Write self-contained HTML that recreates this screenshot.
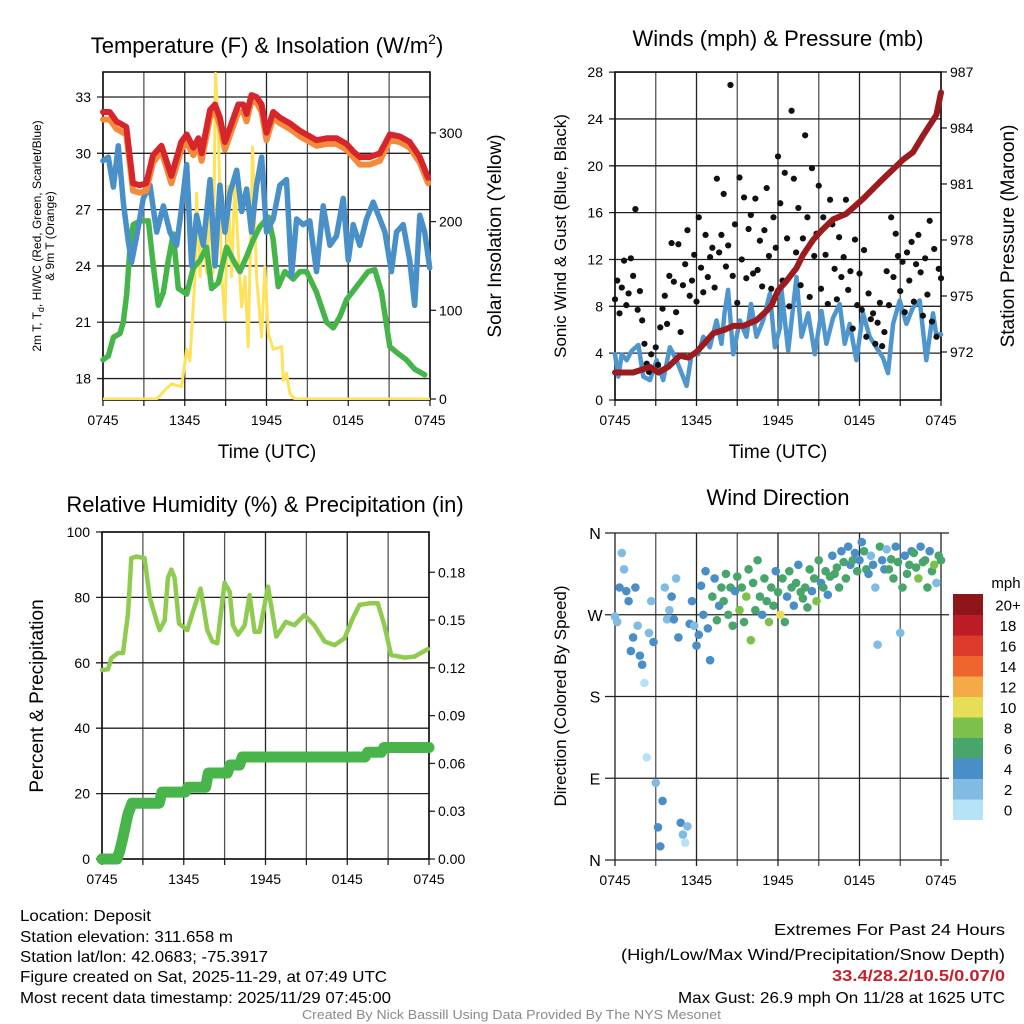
<!DOCTYPE html>
<html><head><meta charset="utf-8"><style>
body{margin:0;background:#fff}
svg{display:block;font-family:"Liberation Sans",Arial,sans-serif}
</style></head><body>
<svg id="s" width="1024" height="1024" viewBox="0 0 1024 1024" xmlns="http://www.w3.org/2000/svg">
<rect width="1024" height="1024" fill="#fff"/>
<g id="g"></g>
<!-- titles -->
<text x="267" y="53" font-size="22" text-anchor="middle">Temperature (F) &amp; Insolation (W/m<tspan font-size="14" dy="-9">2</tspan><tspan dy="9">)</tspan></text>
<text x="778" y="46" font-size="22" text-anchor="middle">Winds (mph) &amp; Pressure (mb)</text>
<text x="265" y="512" font-size="22" text-anchor="middle">Relative Humidity (%) &amp; Precipitation (in)</text>
<text x="778" y="505" font-size="22" text-anchor="middle">Wind Direction</text>
<!-- axis titles -->
<text transform="translate(41,236) rotate(-90)" font-size="12" text-anchor="middle">2m T, T<tspan font-size="9" dy="3">d</tspan><tspan dy="-3">, HI/WC (Red, Green, Scarlet/Blue)</tspan></text>
<text transform="translate(54,236) rotate(-90)" font-size="12" text-anchor="middle">&amp; 9m T (Orange)</text>
<text transform="translate(501,236) rotate(-90)" font-size="19" text-anchor="middle">Solar Insolation (Yellow)</text>
<text x="267" y="458" font-size="19" text-anchor="middle">Time (UTC)</text>
<text transform="translate(566,236) rotate(-90)" font-size="17" text-anchor="middle">Sonic Wind &amp; Gust (Blue, Black)</text>
<text transform="translate(1014,236) rotate(-90)" font-size="19" text-anchor="middle">Station Pressure (Maroon)</text>
<text x="778" y="458" font-size="19" text-anchor="middle">Time (UTC)</text>
<text transform="translate(43,696) rotate(-90)" font-size="19" text-anchor="middle">Percent &amp; Precipitation</text>
<text transform="translate(566,696) rotate(-90)" font-size="17" text-anchor="middle">Direction (Colored By Speed)</text>
<!-- footer -->
<g font-size="16">
<text x="20" y="921" textLength="131" lengthAdjust="spacingAndGlyphs">Location: Deposit</text>
<text x="20" y="942" textLength="213" lengthAdjust="spacingAndGlyphs">Station elevation: 311.658 m</text>
<text x="20" y="962" textLength="248" lengthAdjust="spacingAndGlyphs">Station lat/lon: 42.0683; -75.3917</text>
<text x="20" y="982" textLength="367" lengthAdjust="spacingAndGlyphs">Figure created on Sat, 2025-11-29, at 07:49 UTC</text>
<text x="20" y="1003" textLength="371" lengthAdjust="spacingAndGlyphs">Most recent data timestamp: 2025/11/29 07:45:00</text>
</g>
<g font-size="16">
<text x="774" y="935" textLength="231" lengthAdjust="spacingAndGlyphs">Extremes For Past 24 Hours</text>
<text x="621" y="960" textLength="384" lengthAdjust="spacingAndGlyphs">(High/Low/Max Wind/Precipitation/Snow Depth)</text>
<text x="832" y="981" textLength="173" lengthAdjust="spacingAndGlyphs" fill="#c8202a" font-weight="bold">33.4/28.2/10.5/0.07/0</text>
<text x="678" y="1003" textLength="327" lengthAdjust="spacingAndGlyphs">Max Gust: 26.9 mph On 11/28 at 1625 UTC</text>
</g>
<text x="302" y="1019" font-size="13" fill="#8a8a8a" textLength="419" lengthAdjust="spacingAndGlyphs">Created By Nick Bassill Using Data Provided By The NYS Mesonet</text>
</svg>
<script>
// ---------- data ----------
const xTickLabels=["0745","1345","1945","0145","0745"];
const tempTicks=[18,21,24,27,30,33];
const solarTicks=[0,100,200,300];
const windTicks=[0,4,8,12,16,20,24,28];
const presTicks=[972,975,978,981,984,987];
const rhTicks=[0,20,40,60,80,100];
const precipTicks=[0,0.03,0.06,0.09,0.12,0.15,0.18];
const dirTicks=[0,90,180,270,360];
const dirTickLabels=["N","E","S","W","N"];
const cbLabels=["0","2","4","6","8","10","12","14","16","18","20+"];
const cbColors=["#b5e2f7","#80bbe4","#4a8ec7","#48a56b","#7dc04a","#e6df55","#f5aa48","#ef6530","#de3a2c","#bb1c25","#8e1519"];

const redT=[0,0.49,0.98,1.71,2.2,2.69,3.18,3.67,4.29,5.02,5.75,6.14,6.63,7.0,7.24,7.85,8.22,8.58,8.95,9.44,9.93,10.29,10.54,10.9,11.27,11.64,12.0,12.49,12.98,13.72,14.45,15.18,15.67,16.41,17.14,17.87,18.36,18.85,19.58,20.32,21.05,21.78,22.51,23.25,23.86];
const redV=[32.2,32.2,31.7,31.4,28.4,28.3,28.4,29.9,30.4,28.8,30.6,31.0,30.3,30.8,30.0,32.3,32.6,31.9,30.6,31.6,32.6,32.6,32.1,33.1,33.0,32.6,31.1,32.2,31.9,31.6,31.2,30.9,30.7,30.8,30.8,30.5,30.1,29.8,29.8,30.0,31.0,30.9,30.6,29.8,28.7];
const orangeV=[31.8,31.8,31.3,31.0,28.0,27.9,28.0,29.5,30.1,28.4,30.2,30.6,29.9,30.4,29.6,31.9,32.3,31.5,30.2,31.2,32.2,32.2,31.7,32.8,32.7,32.2,30.7,31.9,31.6,31.3,30.9,30.6,30.4,30.5,30.5,30.2,29.8,29.4,29.4,29.6,30.7,30.6,30.3,29.5,28.4];
const blueT=[0,0.39,0.76,1.12,1.49,1.86,2.1,2.47,2.96,3.45,3.94,4.43,4.91,5.4,5.77,6.14,6.5,6.87,7.36,7.85,8.22,8.58,8.95,9.32,9.81,10.18,10.54,10.9,11.27,11.64,12.0,12.49,12.98,13.47,13.84,14.21,14.69,15.18,15.67,16.16,16.65,17.14,17.63,18.0,18.36,18.85,19.34,19.83,20.32,20.69,21.17,21.54,22.03,22.51,22.88,23.25,23.61,23.98];
const blueV=[29.6,29.8,28.2,30.4,27.4,25.3,24.2,25.6,27.6,28.3,25.8,27.2,25.8,25.1,27.1,29.4,24.0,26.7,25.1,28.6,24.0,28.3,25.8,27.9,29.1,26.9,28.1,25.8,28.3,29.8,25.8,26.5,28.3,28.6,23.5,26.5,26.2,26.4,23.7,27.2,25.1,25.6,27.6,24.3,26.2,25.1,26.5,27.4,26.5,25.8,23.7,25.8,26.2,24.3,21.9,26.7,25.8,23.9];
const greenT=[0,0.39,0.76,1.25,1.49,1.74,1.98,2.22,2.71,3.33,3.69,4.06,4.43,4.79,5.16,5.53,6.14,6.63,7.12,7.6,7.97,8.46,9.07,9.56,10.05,10.54,11.03,11.52,12.13,12.49,12.86,13.35,13.96,14.45,14.94,15.67,16.41,16.9,17.39,17.87,18.61,19.46,19.95,20.44,21.05,21.54,22.27,22.88,23.61];
const greenV=[19.0,19.2,20.2,20.4,21.0,22.5,25.0,26.2,26.4,26.4,24.0,21.9,22.6,24.3,25.7,22.8,22.5,23.9,24.3,25.0,22.8,23.1,25.0,24.3,23.7,24.5,25.4,26.1,26.6,25.4,22.9,23.7,23.3,23.7,23.7,22.6,21.0,20.7,21.3,22.2,22.9,23.7,23.8,22.6,19.7,19.4,19.0,18.5,18.2];
const solarT=[0,3.94,4.67,5.04,5.77,6.14,6.38,6.75,6.87,7.12,7.36,7.6,7.85,8.09,8.26,8.46,8.70,8.95,9.19,9.44,9.68,9.93,10.17,10.42,10.66,10.98,11.27,11.64,11.88,12.13,12.49,13.11,13.23,13.47,13.72,14.08,24];
const solarV=[0,0,12,17,14,56,43,138,232,138,194,142,213,142,367,307,142,89,240,138,247,165,104,138,59,284,138,70,149,74,56,59,21,29,6,0,0];

const windT=[0,0.25,0.49,0.86,1.23,1.72,2.08,2.57,3.06,3.55,4.04,4.53,4.9,5.27,5.64,6.13,6.5,6.98,7.47,7.84,8.06,8.33,8.7,9.19,9.68,10.01,10.42,10.91,11.4,11.77,12.15,12.26,12.75,13.36,13.73,14.22,14.71,15.2,15.56,16.05,16.54,16.91,17.28,17.77,18.26,18.75,19.24,19.73,20.1,20.47,20.96,21.45,21.94,22.43,22.92,23.41,23.65,24];
const windV=[3.9,2.0,3.9,3.4,4.2,4.7,2.0,1.7,3.4,1.7,4.5,3.4,2.3,1.2,3.9,3.9,5.4,4.5,6.8,4.8,7.4,9.4,3.9,6.8,5.4,8.2,5.4,6.8,9.1,4.5,6.2,9.4,4.2,10.5,5.4,7.4,3.9,7.6,4.8,7.0,8.2,4.8,6.5,3.4,7.4,5.4,4.5,3.6,2.3,6.5,8.5,6.5,7.9,8.5,3.4,7.4,5.6,5.6];
const presT=[0,1.35,2.57,3.19,3.92,4.78,5.39,6.0,6.5,7.23,8.09,8.7,9.44,10.42,11.15,11.52,12.01,12.62,13.36,13.84,14.58,15.2,16.05,17.03,18.26,19.49,21.2,21.94,22.68,23.66,24];
const presV=[970.9,970.9,971.2,970.9,971.2,971.8,971.7,972.0,972.4,973.0,973.2,973.4,973.4,973.7,974.2,974.5,975.3,975.8,976.5,977.2,978.0,978.5,979.1,979.4,980.2,981.1,982.3,982.7,983.6,984.7,985.9];
const gustV=[8.6,10.2,7.4,9.6,11.9,8.1,9.1,12.1,10.6,16.3,7.7,9.3,6.8,4.8,3.1,2.4,3.9,2.6,4.5,3.0,6.2,7.8,8.9,6.5,10.6,13.4,10.1,7.5,13.3,5.8,9.8,11.6,14.5,8.9,10.2,12.4,8.4,15.6,11.3,9.2,14.1,10.5,12.2,13.0,9.6,18.9,12.6,14.1,17.6,11.4,13.2,26.9,10.6,15.0,8.3,19.0,12.0,17.3,10.4,14.6,15.8,10.8,17.2,11.1,13.6,9.7,14.5,18.1,12.3,9.5,15.6,13.0,20.8,16.8,10.2,19.4,13.8,8.0,24.7,18.9,12.6,16.4,9.8,13.8,22.6,15.6,8.8,19.8,12.3,14.2,18.3,9.5,15.6,12.4,8.2,17.1,15.0,11.2,8.6,13.9,10.5,12.2,17.1,9.4,11.0,6.1,13.7,8.1,10.8,7.7,12.8,5.4,9.1,6.9,7.4,4.8,6.6,8.3,4.6,5.8,11.0,8.1,15.6,10.5,14.2,12.3,9.3,11.8,7.5,12.6,10.2,13.5,8.4,11.6,14.1,10.9,7.2,12.1,9.0,15.3,6.7,12.9,5.4,11.2,10.4];

const rhT=[0,0.44,0.68,1.17,1.54,1.91,2.15,2.52,3.13,3.5,3.99,4.23,4.6,4.84,5.09,5.33,5.65,6.26,6.75,7.24,7.73,8.1,8.46,9.0,9.37,9.61,9.98,10.47,10.83,11.2,11.57,12.18,12.79,13.5,14.13,14.85,15.58,16.34,17.07,17.8,18.41,18.9,19.63,20.24,20.73,21.22,22.2,22.93,23.91];
const rhV=[57.8,58,61.4,63,63,75,92,92.5,92,80,73,70,73,86,88.5,86,72,70,76.6,82.7,70,66.5,66,84.5,81.7,71.5,68.6,71.5,80.7,69.5,69.5,83.3,68,72.5,71.5,74.6,71.5,66.5,65.4,67.5,73.6,77.7,78.2,78.2,71.5,62.4,61.6,61.9,64.2];
const precipT=[0,1.1,1.3,1.5,1.7,1.9,2.2,4.2,4.4,6.1,6.3,7.6,7.8,9.2,9.4,10.1,10.3,19.3,19.5,20.5,20.7,24];
const precipV=[0,0,0.005,0.012,0.02,0.028,0.035,0.035,0.042,0.042,0.045,0.045,0.054,0.054,0.059,0.059,0.064,0.064,0.067,0.067,0.07,0.07];

const dirV=[268,262,300,338,320,296,285,230,245,300,258,225,215,195,113,250,285,240,85,36,15,65,300,265,275,290,265,310,245,41,28,19,37,260,285,258,236,248,302,270,318,255,220,290,310,264,280,300,285,315,270,300,258,296,312,275,300,262,290,320,242,305,275,330,290,270,310,285,262,300,280,318,295,270,310,262,290,318,300,280,305,325,295,288,300,278,320,296,310,285,330,305,300,318,292,312,335,315,322,300,340,328,310,345,325,330,338,318,330,350,340,320,315,335,325,300,237,345,330,320,342,320,331,310,345,328,250,300,335,315,325,340,338,322,310,345,328,330,300,340,318,325,305,335,330];
const dirSpd=[3,2,4,3,2,4,4,5,4,5,3,4,4,1,1,3,3,4,2,4,4,4,3,2,3,4,5,3,5,4,2,1,3,5,4,3,5,4,5,4,5,5,5,6,4,6,5,6,6,7,6,7,6,5,6,8,6,7,8,6,9,7,6,6,7,5,7,6,9,6,7,5,6,10,6,7,5,6,7,5,6,5,7,6,6,6,7,4,6,9,6,5,7,6,5,6,5,6,7,6,5,6,7,4,5,6,5,6,4,5,7,6,5,3,4,2,2,6,5,4,3,6,6,7,4,7,2,6,5,6,7,4,6,7,8,5,6,7,6,5,7,8,3,6,6];

// ---------- drawing ----------
const NS="http://www.w3.org/2000/svg";
const G=document.getElementById('g');
function mk(tag,attrs,parent){const e=document.createElementNS(NS,tag);for(const k in attrs)e.setAttribute(k,attrs[k]);(parent||G).appendChild(e);return e;}
function txt(x,y,s,size,anchor,parent){const t=mk('text',{x:x,y:y,'font-size':size,'text-anchor':anchor},parent);t.textContent=s;return t;}

function panel(name,x0,x1,y0,y1){
  const grp=mk('g',{});
  
  
  return {g:grp,x0,x1,y0,y1,xs:h=>x0+h*(x1-x0)/24};
}
function frame(p,leftTicks,ly,leftFmt,rightTicks,ry,rightFmt){
  for(let h=0;h<=24;h+=3){const x=p.xs(h);mk('line',{x1:x,x2:x,y1:p.y0,y2:p.y1,stroke:h%6?'#555':'#222','stroke-width':1.3},p.g);
    mk('line',{x1:x,x2:x,y1:p.y1,y2:p.y1+6,stroke:'#222','stroke-width':1.3},p.g);}
  xTickLabels.forEach((l,i)=>{const t=txt(p.xs(i*6),p.y1+25,l,14,'middle',p.g);});
  leftTicks.forEach(v=>{const y=ly(v);mk('line',{x1:p.x0-6,x2:p.x1,y1:y,y2:y,stroke:'#222','stroke-width':1.3},p.g);
    const t=txt(p.x0-12,y+5,leftFmt(v),14,'end',p.g);});
  if(rightTicks){rightTicks.forEach(v=>{const y=ry(v);mk('line',{x1:p.x1,x2:p.x1+6,y1:y,y2:y,stroke:'#222','stroke-width':1.3},p.g);
    const t=txt(p.x1+9,y+5,rightFmt(v),14,'start',p.g);});}
  mk('rect',{x:p.x0,y:p.y0,width:p.x1-p.x0,height:p.y1-p.y0,fill:'none',stroke:'#111','stroke-width':1.6},p.g);
}
function line(p,T,V,sc,color,w,name){
  const d=T.map((t,i)=>(i?'L':'M')+p.xs(t).toFixed(1)+','+sc(V[i]).toFixed(1)).join('');
  const e=mk('path',{d:d,fill:'none',stroke:color,'stroke-width':w,'stroke-linejoin':'round','stroke-linecap':'round'},p.g);
  
  
  return e;
}

// Panel 1
const p1=panel('temperature-chart',103,430,72,400);
const tY=v=>97+(33-v)*18.77, sY=v=>399-v*0.887;
frame(p1,tempTicks,tY,v=>String(v),solarTicks,sY,v=>String(v));
const clip1=mk('clipPath',{id:'c1'});mk('rect',{x:103,y:60,width:327,height:340},clip1);
line(p1,solarT,solarV,sY,'#fde25a',3,'solar-line').setAttribute('clip-path','url(#c1)');
line(p1,greenT,greenV,tY,'#46b549',5.5,'dewpoint-line');
line(p1,blueT,blueV,tY,'#4a90c8',5.5,'windchill-line');
line(p1,redT,orangeV,tY,'#f58a3a',6,'temp-9m-line');
line(p1,redT,redV,tY,'#d7262b',6,'temp-2m-line');

// Panel 2
const p2=panel('winds-chart',615,941,72,400);
const wY=v=>400-v*11.71, pY=v=>352-(v-972)*18.67;
frame(p2,windTicks,wY,v=>String(v),presTicks,pY,v=>String(v));
line(p2,windT,windV,wY,'#4f96cf',4.5,'sonic-wind-line');
gustV.forEach((v,i)=>{const c=mk('circle',{cx:p2.xs(i/6),cy:wY(v),r:3.1,fill:'#111'},p2.g);
  
  });
line(p2,presT,presV,pY,'#9b1b1e',6,'pressure-line');

// Panel 3
const p3=panel('humidity-chart',102,429,532,859);
const rY=v=>859-v*3.27, prY=v=>859-v*1593;
frame(p3,rhTicks,rY,v=>String(v),precipTicks,prY,v=>v.toFixed(2));
line(p3,rhT,rhV,rY,'#8fcb4f',4.5,'rh-line');
line(p3,precipT,precipV,prY,'#47b54a',11,'precip-line');

// Panel 4
const p4=panel('wind-direction-chart',615,941,533,860);
const dY=v=>860-v*327/360;
for(let h=0;h<=24;h+=3){const x=p4.xs(h);mk('line',{x1:x,x2:x,y1:p4.y0,y2:p4.y1+6,stroke:h%6?'#555':'#222','stroke-width':1.3},p4.g);}
xTickLabels.forEach((l,i)=>{const t=txt(p4.xs(i*6),p4.y1+25,l,14,'middle',p4.g);});
dirTicks.forEach((v,i)=>{const y=dY(v);mk('line',{x1:p4.x0-10,x2:p4.x1+8,y1:y,y2:y,stroke:'#222','stroke-width':1.3},p4.g);
  const t=txt(p4.x0-20,y+6,dirTickLabels[i],16,'middle',p4.g);});
dirV.forEach((v,i)=>{const ci=Math.min(10,Math.floor(dirSpd[i]/2));
  const c=mk('circle',{cx:p4.xs(i/6),cy:dY(v),r:4.3,fill:cbColors[ci]},p4.g);
  
  });
// colorbar
const cb=mk('g',{});


txt(1006,588,'mph',15,'middle',cb);
const cbTop=594,cbH=20.5;
cbLabels.forEach((l,i)=>{const y=cbTop+(10-i)*cbH;
  mk('rect',{x:953,y:y,width:30,height:cbH+0.5,fill:cbColors[i]},cb);
  txt(1008,y+cbH/2+6,l,15,'middle',cb);});
</script>
</body></html>
